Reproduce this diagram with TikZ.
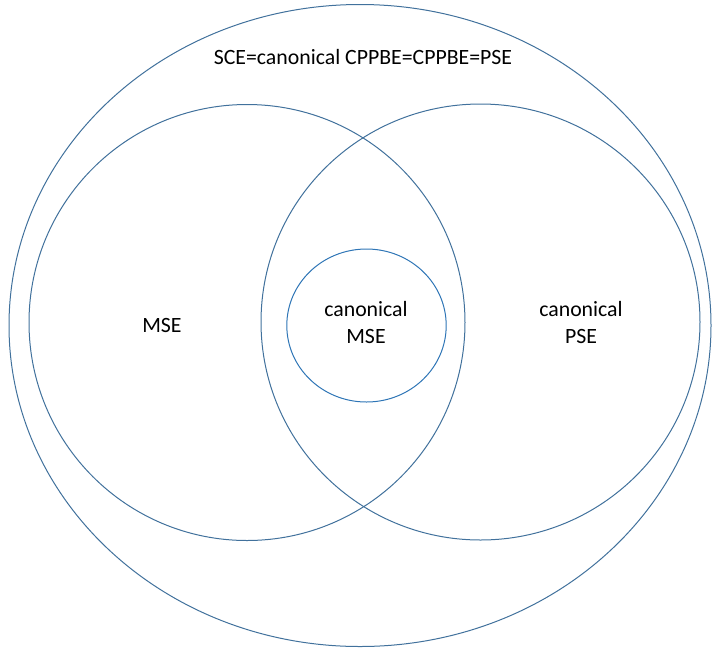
\documentclass[tikz,border=0pt]{standalone}
\usepackage{fontspec}
\setmainfont{Carlito}
\usepackage{tikz}
\usetikzlibrary{positioning, calc}

\definecolor{setline}{RGB}{65,113,156}
\definecolor{coreline}{RGB}{46,117,182}

\tikzset{
	setedge/.style = {draw = setline, line width = 1pt},
	coreedge/.style = {draw = coreline, line width = 1pt},
	setlabel/.style = {align = center, inner sep = 0pt, font = \fontsize{21.8}{27.3}\selectfont, anchor = base}
}

\begin{document}
\begin{tikzpicture}[x = 1pt, y = -1pt]
	\useasboundingbox (0,0) rectangle (712,649);
	% the sets
	\draw[setedge] (360,325.5) ellipse (351 and 321);
	\draw[setedge] (247,322.5) ellipse (218 and 218);
	\draw[setedge] (480.5,322) ellipse (219.5 and 218);
	\draw[coreedge] (366.5,325.5) ellipse (79.7 and 76.5);
	% names of the sets
	\node[setlabel] (sce) at (363,64.3) {SCE=canonical CPPBE=CPPBE=PSE};
	\node[setlabel] (mse) at (162,332.5) {MSE};
	\node[setlabel] (cmse) at (366,343.3) {canonical\\MSE};
	\node[setlabel] (cpse) at (581,343.3) {canonical\\PSE};
\end{tikzpicture}
\end{document}
